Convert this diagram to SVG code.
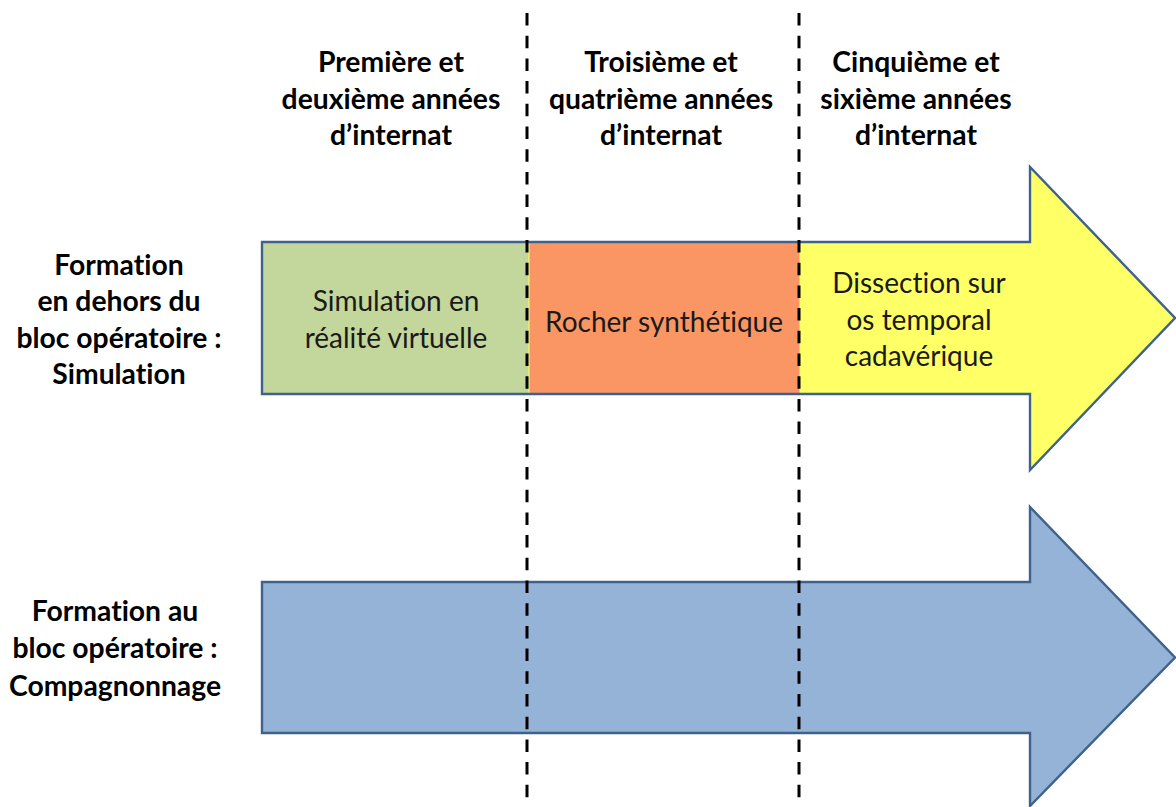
<svg xmlns="http://www.w3.org/2000/svg" width="1176" height="807" viewBox="0 0 1176 807">
  <style>
    .hdr { font-family: Lato, "Liberation Sans", sans-serif; font-weight: bold; font-size: 28.3px; fill: #000; text-anchor: middle; font-variant-ligatures: none; }
    .lbl { font-family: Lato, "Liberation Sans", sans-serif; font-size: 28px; fill: #1a1a1a; text-anchor: middle; font-variant-ligatures: none; }
    .outline { fill: none; stroke: #3F628D; stroke-width: 2.4; stroke-linejoin: miter; }
    .divider { stroke: #000; stroke-width: 3; stroke-dasharray: 12.5 10.2; fill: none; }
  </style>
  <rect width="1176" height="807" fill="#fff"/>

  <g id="header-1">
    <text class="hdr" x="391" y="72">Première et</text>
    <text class="hdr" x="391" y="109">deuxième années</text>
    <text class="hdr" x="391" y="145">d’internat</text>
  </g>
  <g id="header-2">
    <text class="hdr" x="661" y="72">Troisième et</text>
    <text class="hdr" x="661" y="109">quatrième années</text>
    <text class="hdr" x="661" y="145">d’internat</text>
  </g>
  <g id="header-3">
    <text class="hdr" x="916" y="72">Cinquième et</text>
    <text class="hdr" x="916" y="109">sixième années</text>
    <text class="hdr" x="916" y="145">d’internat</text>
  </g>

  <g id="label-simulation">
    <text class="hdr" x="119" y="275">Formation</text>
    <text class="hdr" x="119" y="311">en dehors du</text>
    <text class="hdr" x="119" y="348">bloc opératoire :</text>
    <text class="hdr" x="119" y="384">Simulation</text>
  </g>
  <g id="label-compagnonnage">
    <text class="hdr" x="115" y="621">Formation au</text>
    <text class="hdr" x="115" y="658">bloc opératoire :</text>
    <text class="hdr" x="115" y="696">Compagnonnage</text>
  </g>

  <g id="arrow-simulation">
    <polygon points="262,242 1030,242 1030,167 1175,318 1030,470 1030,394 262,394" fill="#FFFF66"/>
    <rect x="262" y="242" width="266.5" height="152" fill="#C3D69B"/>
    <rect x="529.5" y="242" width="270" height="152" fill="#FA9664"/>
    <polygon class="outline" points="262,242 1030,242 1030,167 1175,318 1030,470 1030,394 262,394"/>
  </g>
  <g id="stage-vr">
    <text class="lbl" x="396" y="311">Simulation en</text>
    <text class="lbl" x="396" y="348">réalité virtuelle</text>
  </g>
  <g id="stage-rocher">
    <text class="lbl" x="664" y="332">Rocher synthétique</text>
  </g>
  <g id="stage-dissection">
    <text class="lbl" x="919" y="293">Dissection sur</text>
    <text class="lbl" x="919" y="330">os temporal</text>
    <text class="lbl" x="919" y="366">cadavérique</text>
  </g>

  <g id="arrow-compagnonnage">
    <polygon points="262,582 1030,582 1030,507 1175,657.5 1030,806 1030,733 262,733" fill="#95B3D7"/>
    <polygon class="outline" points="262,582 1030,582 1030,507 1175,657.5 1030,806 1030,733 262,733"/>
  </g>

  <g id="connectors">
    <line class="divider" x1="527" y1="13" x2="527" y2="798"/>
    <line class="divider" x1="799" y1="13" x2="799" y2="798"/>
  </g>
</svg>
